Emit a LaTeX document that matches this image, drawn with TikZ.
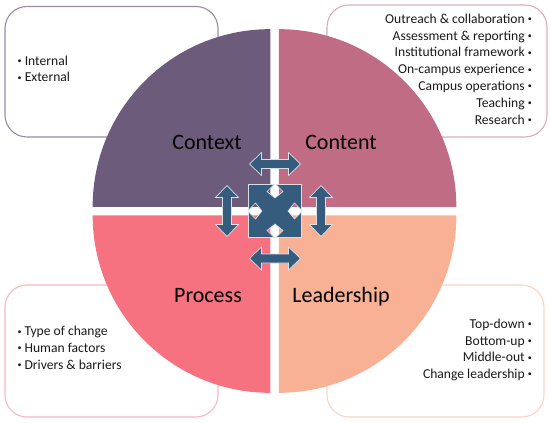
\documentclass[tikz,border=0pt]{standalone}
\usepackage{fontspec}
\setmainfont{Carlito}
\definecolor{ctx}{HTML}{6C5B7B}
\definecolor{cnt}{HTML}{C06C84}
\definecolor{prc}{HTML}{F67280}
\definecolor{ldr}{HTML}{F8B195}
\definecolor{arr}{HTML}{355C7D}
\definecolor{txt}{HTML}{1A1A1A}
\newcommand\smbul{\raisebox{1.6pt}{\fontsize{8}{8}\selectfont •}}
\tikzset{
  listbox/.style={rounded corners=22, line width=1.1pt, fill=white},
  quadlabel/.style={inner sep=0pt, font=\fontsize{22}{26}\selectfont, text=black},
  item/.style={inner sep=0pt, font=\fontsize{13.6}{16}\selectfont, text=txt},
  arrshape/.style={fill=arr, draw=white!80!arr, line width=0.7pt, line join=miter},
  dblarr/.pic={
    \path[arrshape] (-25.5,0) -- (-13.5,11.5) -- (-13.5,4.5) -- (13.5,4.5) -- (13.5,11.5)
      -- (25.5,0) -- (13.5,-11.5) -- (13.5,-4.5) -- (-13.5,-4.5) -- (-13.5,-11.5) -- cycle;
  }
}
\begin{document}
\begin{tikzpicture}[x=1pt,y=1pt]
\useasboundingbox (0,0) rectangle (550,-423);
% boxes
\draw[listbox, draw=ctx!70!white] (5,-6.5) rectangle (218,-137);
\draw[listbox, draw=cnt!55!white] (327,-5) rectangle (547,-137);
\draw[listbox, draw=prc!50!white] (5,-285) rectangle (218,-417);
\draw[listbox, draw=ldr!55!white] (327,-285) rectangle (544,-417);
% quadrants
\fill[ctx] (270.25,-206.75) -- ++(0,177.6) arc[start angle=90,end angle=180,radius=177.6] -- cycle;
\fill[cnt] (278.75,-206.75) -- ++(177.6,0) arc[start angle=0,end angle=90,radius=177.6] -- cycle;
\fill[prc] (270.25,-215.25) -- ++(-177.6,0) arc[start angle=180,end angle=270,radius=177.6] -- cycle;
\fill[ldr] (278.75,-215.25) -- ++(0,-177.6) arc[start angle=270,end angle=360,radius=177.6] -- cycle;
% labels
\node[quadlabel, anchor=base] (lctx) at (207,-149.5) {Context};
\node[quadlabel, anchor=base] (lcnt) at (341,-149.5) {Content};
\node[quadlabel, anchor=base] (lprc) at (208,-302) {Process};
\node[quadlabel, anchor=base] (lldr) at (341,-302) {Leadership};
% lists
\node[item, anchor=base west] (tl1) at (17.5,-65) {\smbul\ Internal};
\node[item, anchor=base west] (tl2) at (17.5,-81.7) {\smbul\ External};
\foreach \t [count=\i] in {Outreach \& collaboration, Assessment \& reporting, Institutional framework, On-campus experience, Campus operations, Teaching, Research}
  \node[item, anchor=base east] (tr\i) at (532,-23.3-16.8*\i+16.8) {\t{} \smbul};
\foreach \t [count=\i] in {Type of change, Human factors, Drivers \& barriers}
  \node[item, anchor=base west] (bl\i) at (17.3,-335.7-16.7*\i+16.7) {\smbul\ \t};
\foreach \t [count=\i] in {Top-down, Bottom-up, Middle-out, Change leadership}
  \node[item, anchor=base east] (br\i) at (532,-328.3-16.7*\i+16.7) {\t{} \smbul};
% arrows
\pic at (275,-164) {dblarr};
\pic at (275,-258.5) {dblarr};
\pic[rotate=90] at (227,-211) {dblarr};
\pic[rotate=90] at (321,-211) {dblarr};
\begin{scope}[shift={(275,-211)}]
\path[arrshape] (-26.5,26.5) -- (-1,26.5) -- (-8,19.5) -- (0,13) -- (8,19.5) -- (1,26.5)
  -- (26.5,26.5) -- (26.5,1) -- (19.5,8) -- (13,0) -- (19.5,-8) -- (26.5,-1)
  -- (26.5,-26.5) -- (1,-26.5) -- (8,-19.5) -- (0,-13) -- (-8,-19.5) -- (-1,-26.5)
  -- (-26.5,-26.5) -- (-26.5,-1) -- (-19.5,-8) -- (-13,0) -- (-19.5,8) -- (-26.5,1) -- cycle;
\end{scope}
\end{tikzpicture}
\end{document}
